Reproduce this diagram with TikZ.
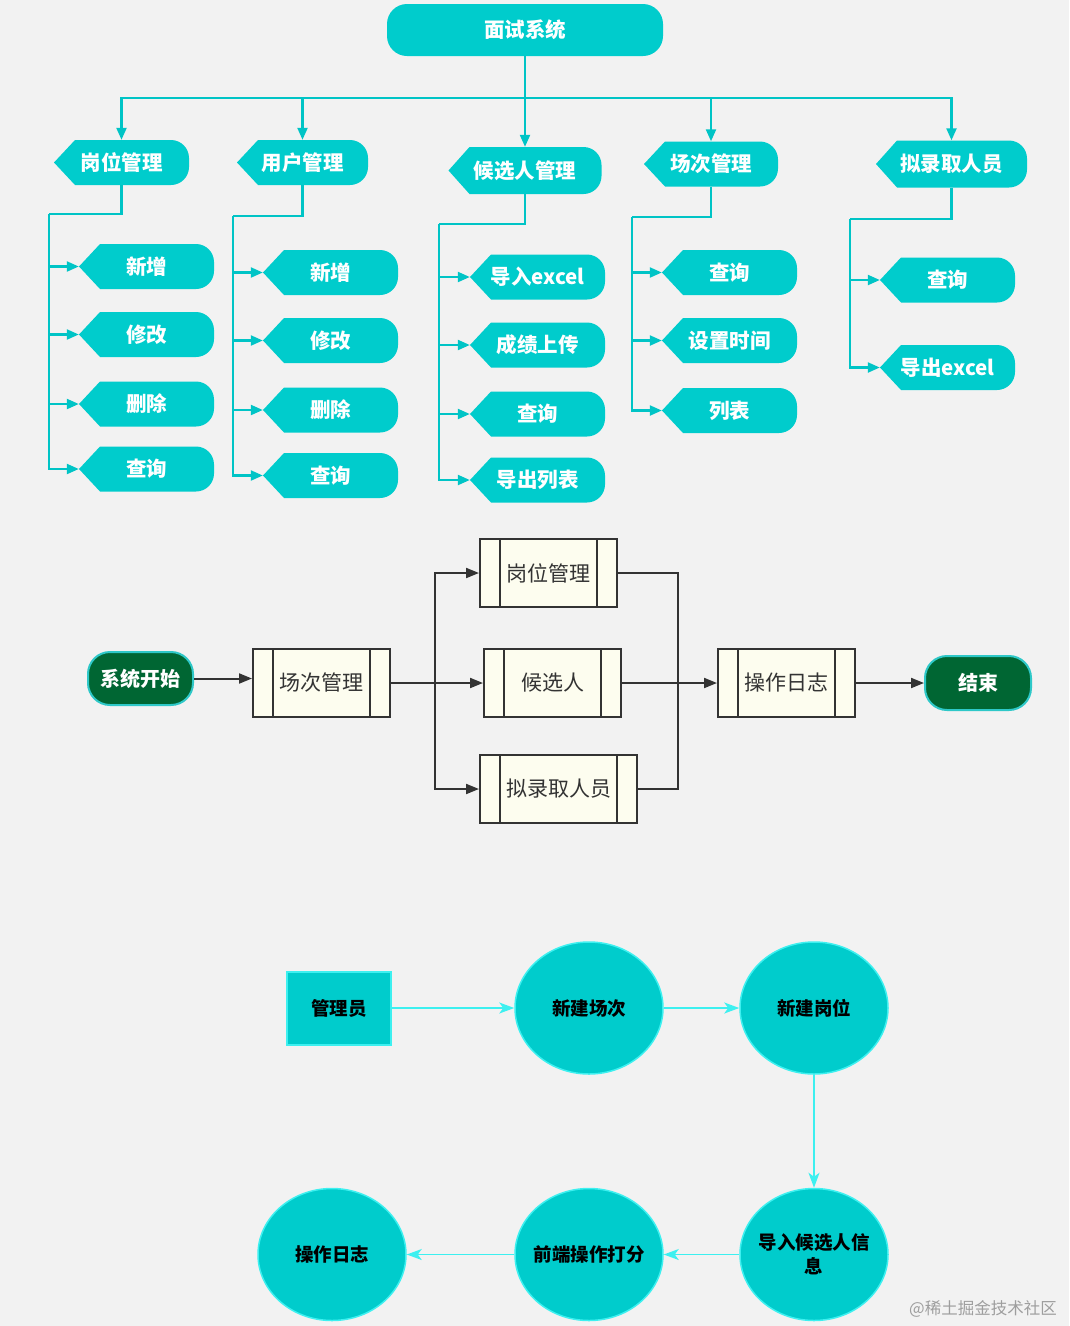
\documentclass[tikz,border=0pt]{standalone}
\usepackage{fontspec}
\usetikzlibrary{arrows.meta,calc,shapes.geometric}
\newfontfamily\cjk{Noto Sans CJK SC}
\definecolor{bgc}{HTML}{F2F2F2}
\definecolor{tealc}{HTML}{00CCCC}
\definecolor{tlinec}{HTML}{00C4C6}
\definecolor{darkc}{HTML}{333333}
\definecolor{ivory}{HTML}{FDFDEF}
\definecolor{greenc}{HTML}{006633}
\definecolor{termborder}{HTML}{2EC8C8}
\definecolor{lightc}{HTML}{3DF0F0}
\tikzset{
  disptext/.style={inner sep=0pt, text=white, font=\cjk\bfseries\fontsize{20.5}{24}\selectfont},
  rootbox/.style={fill=tealc, rounded corners=20pt, minimum width=276pt, minimum height=52pt, inner sep=0pt, text=white, font=\cjk\bfseries\fontsize{20.5}{24}\selectfont},
  tline/.style={draw=tlinec, line width=2.2pt},
  tarrow/.style={tline, -{Triangle[length=12pt,width=10pt]}},
  pbox/.style={draw=darkc, line width=2pt, fill=ivory, minimum height=68pt, inner sep=0pt, text=darkc, font=\cjk\fontsize{21}{25}\selectfont},
  term/.style={fill=greenc, draw=termborder, line width=2pt, rounded corners=22pt, minimum height=53pt, inner sep=0pt, text=white, font=\cjk\bfseries\fontsize{20}{24}\selectfont},
  dline/.style={draw=darkc, line width=2pt},
  darrow/.style={dline, -{Triangle[length=13pt,width=10pt]}},
  ell/.style={ellipse, fill=tealc, draw=lightc, line width=1.5pt, minimum width=148pt, minimum height=132pt, inner sep=-20pt, text=black, align=center, font=\cjk\bfseries\fontsize{18.5}{24}\selectfont},
  admbox/.style={rectangle, fill=tealc, draw=lightc, line width=2pt, minimum width=104pt, minimum height=73pt, inner sep=0pt, text=black, font=\cjk\bfseries\fontsize{18.5}{22}\selectfont},
  larrow/.style={draw=lightc, line width=1.5pt, -{Stealth[length=15pt,width=11pt,inset=4pt]}}
}
% name, cx, cy, w, h, text
\newcommand\dispnode[6]{%
  \fill[tealc] ({#2-#4/2},{-#3}) -- ({#2-#4/2+21},{-#3+#5/2}) -- ({#2+#4/2-18},{-#3+#5/2})
    arc[start angle=90,end angle=0,radius=18] -- ({#2+#4/2},{-#3-#5/2+18})
    arc[start angle=0,end angle=-90,radius=18] -- ({#2-#4/2+21},{-#3-#5/2}) -- cycle;
  \node[disptext, minimum width=#4pt, minimum height=#5pt] (#1) at (#2,-#3) {#6};
}
% name, cx, cy, w, text
\newcommand\pproc[5]{%
  \node[pbox, minimum width=#4pt] (#1) at (#2,-#3) {#5};
  \draw[dline] ([xshift=21pt]#1.north west) -- ([xshift=21pt]#1.south west)
               ([xshift=-21pt]#1.north east) -- ([xshift=-21pt]#1.south east);
}
\begin{document}
\begin{tikzpicture}[x=1pt,y=1pt]
\useasboundingbox (0,0) rectangle (1069,-1326);
\fill[bgc] (0,0) rectangle (1069,-1326);

% ---------- top tree ----------
\node[rootbox] (root) at (525,-30) {面试系统};

\dispnode{r1}{121.5}{162.5}{135}{45}{岗位管理}
\dispnode{r2}{302.5}{162.5}{131}{45}{用户管理}
\dispnode{r3}{525}{170.5}{153}{47}{候选人管理}
\dispnode{r4}{711}{164}{134}{45}{场次管理}
\dispnode{r5}{951.5}{164}{151}{47}{拟录取人员}

\coordinate (bus) at (525,-98);
\draw[tarrow] (root.south) -- (r3.north);
\draw[tarrow] (bus) -| (r1.north);
\draw[tarrow] (bus) -| (r2.north);
\draw[tarrow] (bus) -| (r4.north);
\draw[tarrow] (bus) -| (r5.north);

% children of 岗位管理
\dispnode{c11}{146.5}{266.5}{135}{45}{新增}
\dispnode{c12}{146.5}{334.5}{135}{45}{修改}
\dispnode{c13}{146.5}{404}{135}{45}{删除}
\dispnode{c14}{146.5}{469}{135}{45}{查询}
\coordinate (t1) at (49,-214);
\draw[tline] (r1.south) |- (t1);
\foreach \c in {c11,c12,c13,c14} \draw[tarrow] (t1) |- (\c.west);

% children of 用户管理
\dispnode{c21}{330.5}{272.5}{135}{45}{新增}
\dispnode{c22}{330.5}{340.5}{135}{45}{修改}
\dispnode{c23}{330.5}{410}{135}{45}{删除}
\dispnode{c24}{330.5}{475.5}{135}{45}{查询}
\coordinate (t2) at (233,-216);
\draw[tline] (r2.south) |- (t2);
\foreach \c in {c21,c22,c23,c24} \draw[tarrow] (t2) |- (\c.west);

% children of 候选人管理
\dispnode{c31}{537.5}{277}{135}{45}{导入excel}
\dispnode{c32}{537.5}{345}{135}{45}{成绩上传}
\dispnode{c33}{537.5}{414}{135}{45}{查询}
\dispnode{c34}{537.5}{480}{135}{45}{导出列表}
\coordinate (t3) at (439,-224);
\draw[tline] (r3.south) |- (t3);
\foreach \c in {c31,c32,c33,c34} \draw[tarrow] (t3) |- (\c.west);

% children of 场次管理
\dispnode{c41}{729.5}{272.5}{135}{45}{查询}
\dispnode{c42}{729.5}{340.5}{135}{45}{设置时间}
\dispnode{c43}{729.5}{410.5}{135}{45}{列表}
\coordinate (t4) at (632,-217);
\draw[tline] (r4.south) |- (t4);
\foreach \c in {c41,c42,c43} \draw[tarrow] (t4) |- (\c.west);

% children of 拟录取人员
\dispnode{c51}{947.5}{280}{135}{45}{查询}
\dispnode{c52}{947.5}{367.5}{135}{45}{导出excel}
\coordinate (t5) at (850,-219);
\draw[tline] (r5.south) |- (t5);
\foreach \c in {c51,c52} \draw[tarrow] (t5) |- (\c.west);

% ---------- middle flow ----------
\node[term, minimum width=105pt] (s) at (140.5,-678.5) {系统开始};
\node[term, minimum width=106pt, minimum height=54pt] (e) at (978,-683) {结束};
\pproc{m1}{321.5}{683}{137}{场次管理}
\pproc{m2}{548.5}{573}{137}{岗位管理}
\pproc{m3}{552.5}{683}{137}{候选人}
\pproc{m4}{558.5}{789}{157}{拟录取人员}
\pproc{m5}{786.5}{683}{137}{操作日志}

\draw[darrow] (s.east) -- (s.east -| m1.west);
\draw[darrow] (m1.east) -- (m3.west);
\coordinate (br) at (435,-683);
\draw[darrow] (br) |- (m2.west);
\draw[darrow] (br) |- (m4.west);
\coordinate (mg) at (678,-683);
\draw[dline] (m2.east) -| (mg);
\draw[dline] (m4.east) -| (mg);
\draw[darrow] (m3.east) -- (m5.west);
\draw[darrow] (m5.east) -- (e.west);

% ---------- bottom flow ----------
\node[admbox] (adm) at (339,-1008) {管理员};
\node[ell] (n1) at (589,-1008) {新建场次};
\node[ell] (n2) at (814,-1008) {新建岗位};
\node[ell] (n3) at (814,-1254.5) {导入候选人信\\息};
\node[ell] (n4) at (589,-1254.5) {前端操作打分};
\node[ell] (n5) at (332,-1254.5) {操作日志};
\draw[larrow] (adm.east) -- (n1.west);
\draw[larrow] (n1.east) -- (n2.west);
\draw[larrow] (n2.south) -- (n3.north);
\draw[larrow] (n3.west) -- (n4.east);
\draw[larrow] (n4.west) -- (n5.east);

\node[text=black!38, font=\cjk\fontsize{16.5}{18}\selectfont, inner sep=0pt] (wm) at (983,-1309) {@稀土掘金技术社区};
\end{tikzpicture}
\end{document}
